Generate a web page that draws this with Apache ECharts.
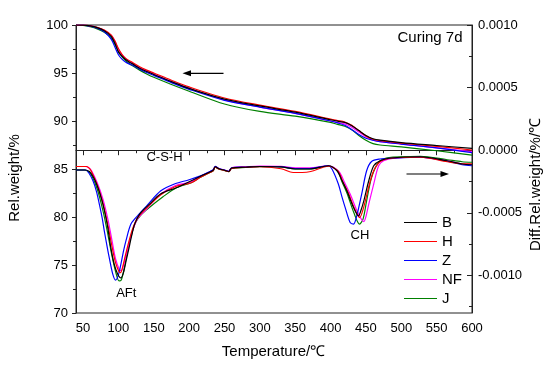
<!DOCTYPE html>
<html><head><meta charset="utf-8">
<script src="https://cdn.jsdelivr.net/npm/echarts@6/dist/echarts.min.js"></script>
<style>html,body{margin:0;padding:0;background:#fff}#c{width:550px;height:369px}</style>
</head><body><div id="c"></div>
<script>
// ---- data ----
const names = ['B','H','Z','NF','J'];
const colors = ['#000000','#ff0000','#0000ff','#ff00ff','#008000'];
const xTickLabels = [50,100,150,200,250,300,350,400,450,500,550,600];
const xMinorTicks = [75,125,175,225,275,325,375,425,475,525,575];
const rightTickLabels = [-0.001,-0.0005,0,0.0005,0.001];
const rightMinorTicks = [-0.00125,-0.00075,-0.00025,0.00025,0.00075];

const tgTemps = [40,50,60,70,80,90,95,100,105,110,115,120,130,140,150,175,200,250,300,350,400,410,420,430,440,450,460,470,500,550,600];
const tgB  = [100,99.98,99.9,99.72,99.4,98.8,98.1,97.2,96.75,96.4,96.15,95.95,95.5,95.15,94.85,94.1,93.4,92.28,91.57,90.92,90.13,89.98,89.85,89.5,89.0,88.5,88.15,88.0,87.75,87.45,87.15];
const tgH  = [100,99.98,99.92,99.76,99.48,98.95,98.35,97.55,96.95,96.55,96.3,96.1,95.65,95.3,95.0,94.25,93.55,92.4,91.65,91.0,90.2,90.05,89.9,89.55,89.0,88.45,88.1,87.95,87.7,87.35,86.98];
const tgZ  = [100,99.98,99.88,99.68,99.3,98.5,97.7,96.9,96.45,96.15,95.95,95.8,95.4,95.05,94.75,94.0,93.3,92.15,91.45,90.8,90.0,89.8,89.55,89.1,88.6,88.2,88.0,87.85,87.6,87.2,86.7];
const tgNF = [100,99.98,99.9,99.74,99.45,98.9,98.3,97.45,96.9,96.5,96.2,96.0,95.55,95.2,94.9,94.1,93.4,92.2,91.45,90.8,90.0,89.85,89.7,89.35,88.85,88.35,88.0,87.85,87.6,87.2,86.8];
const tgJ  = [100,99.96,99.82,99.6,99.25,98.65,98.0,97.25,96.7,96.3,96.0,95.75,95.3,94.9,94.55,93.8,93.1,91.77,91.0,90.5,89.85,89.65,89.45,89.1,88.5,88.0,87.65,87.5,87.3,86.9,86.45];

const dtgB = [[40,-0.000158],[52,-0.000158],[59,-0.00017],[65,-0.00022],[69,-0.00027],[74,-0.00035],[78,-0.00043],[82,-0.00053],[85,-0.00062],[89,-0.00077],[94,-0.00091],[99,-0.00099],[103.5,-0.00102],[107,-0.00098],[111,-0.00088],[115,-0.00078],[118,-0.0007],[123,-0.00059],[130,-0.00051],[144,-0.00043],[160,-0.000348],[182,-0.0003],[203,-0.000244],[216,-0.000208],
  [230,-0.000172],[234,-0.00016],[237,-0.000132],[242,-0.000148],[250,-0.00016],[256,-0.00017],[260,-0.000142],[280,-0.000136],[300,-0.00013],[330,-0.000133],[350,-0.00015],[370,-0.00015],[397,-0.000124],
  [409,-0.000164],[416,-0.00024],[423,-0.000324],[432.5,-0.000458],[439.5,-0.000524],[443,-0.00048],[447,-0.000404],[454,-0.000244],[461,-0.000124],[470,-0.000084],[485,-0.000062],[527,-0.000052],[565,-0.000084],[586,-0.00011],[600,-0.000116]];
const dtgH = [[40,-0.00013],[55,-0.00013],[59,-0.000145],[62,-0.000172],[70,-0.000276],[78,-0.00042],[85,-0.000596],[91,-0.000772],[96,-0.0009],[101,-0.000972],[103,-0.000978],[106,-0.000932],[110,-0.000836],[115,-0.000724],[120,-0.000628],[127,-0.00054],[140,-0.00046],[160,-0.000356],[180,-0.000292],[203,-0.00026],[216,-0.000216],
  [230,-0.000176],[234,-0.000164],[237,-0.000136],[242,-0.00015],[250,-0.000162],[256,-0.000172],[260,-0.000146],[280,-0.000136],[300,-0.000132],[330,-0.000148],[347,-0.000178],[360,-0.000178],[372,-0.00017],[397,-0.000128],
  [410,-0.000164],[418,-0.00026],[425,-0.00034],[434,-0.000468],[441,-0.000538],[447,-0.000452],[454,-0.000292],[461,-0.000164],[470,-0.000092],[485,-0.000064],[527,-0.000056],[565,-0.000092],[586,-0.000108],[600,-0.000108]];
const dtgZ = [[40,-0.000158],[54,-0.000158],[58,-0.00018],[64,-0.000244],[69,-0.00033],[73,-0.00043],[77,-0.00054],[80,-0.000644],[84,-0.00077],[87,-0.000858],[92,-0.00099],[96,-0.001038],[100,-0.000996],[103.5,-0.00091],[107,-0.00081],[110.6,-0.000724],[117.7,-0.00059],[127,-0.000524],[140,-0.000444],[160,-0.000324],[180,-0.000268],[200,-0.000236],[216,-0.000205],
  [230,-0.000168],[234,-0.000156],[237,-0.000128],[242,-0.000146],[250,-0.000158],[256,-0.000168],[260,-0.00014],[280,-0.000134],[300,-0.00013],[330,-0.000132],[350,-0.000146],[370,-0.000146],[397,-0.000124],
  [402,-0.00015],[411,-0.00027],[416,-0.00037],[420.7,-0.000458],[427.7,-0.000578],[432.5,-0.00059],[437,-0.000524],[444,-0.00035],[451,-0.000164],[458,-0.00009],[470,-0.00007],[485,-0.000064],[527,-0.000056],[565,-0.000088],[586,-0.000116],[600,-0.000124]];
const dtgNF = [[40,-0.00013],[53,-0.00013],[58,-0.00014],[62,-0.000164],[70,-0.00026],[78,-0.000388],[85,-0.000548],[91,-0.000724],[96,-0.000868],[101,-0.000948],[104,-0.000964],[107,-0.000924],[111,-0.000836],[115,-0.000748],[120,-0.000644],[127,-0.000548],[140,-0.000468],[160,-0.00035],[180,-0.000284],[203,-0.000252],[216,-0.000208],
  [230,-0.00017],[234,-0.000158],[237,-0.00013],[242,-0.000146],[250,-0.000158],[256,-0.000168],[260,-0.00014],[280,-0.000132],[300,-0.000126],[330,-0.000128],[350,-0.00014],[370,-0.00014],[397,-0.000124],
  [412,-0.000172],[420,-0.00026],[427.7,-0.00035],[439.5,-0.00051],[447,-0.00057],[450,-0.00053],[454,-0.00043],[461,-0.00027],[468,-0.000124],[475,-0.000084],[490,-0.000064],[527,-0.000056],[565,-0.000084],[586,-0.000108],[600,-0.000116]];
const dtgJ = [[40,-0.000158],[53,-0.000158],[58,-0.000175],[62,-0.0002],[70,-0.00031],[78,-0.00048],[84,-0.00064],[90,-0.00082],[96,-0.00097],[101,-0.001044],[104,-0.001036],[108,-0.000948],[113,-0.000804],[118,-0.000684],[124,-0.00058],[132,-0.000516],[145,-0.000452],[163,-0.000372],[182,-0.0003],[203,-0.00026],[216,-0.000216],
  [230,-0.000176],[234,-0.000164],[237,-0.000136],[242,-0.00015],[250,-0.000162],[256,-0.000172],[260,-0.000146],[280,-0.000138],[300,-0.000132],[330,-0.000134],[350,-0.00015],[370,-0.00015],[397,-0.000124],
  [410,-0.000164],[416,-0.00025],[423,-0.00034],[433,-0.0005],[441,-0.00059],[446,-0.000548],[451,-0.000404],[458,-0.000218],[468,-0.000098],[480,-0.00006],[527,-0.000048],[565,-0.000076],[586,-0.000092],[600,-0.000096]];

const tgAll = [tgB,tgH,tgZ,tgNF,tgJ];
const dtgAll = [dtgB,dtgH,dtgZ,dtgNF,dtgJ];

// ---- chart ----
const FONT = '"Liberation Sans", Arial, sans-serif';
const AX = '#222';
const chart = echarts.init(document.getElementById('c'), null, {renderer:'canvas'});
const series = [];
const drawOrder = [4,3,2,1,0];
drawOrder.forEach(i => {
  series.push({name:names[i], type:'line', xAxisIndex:0, yAxisIndex:0, symbol:'none', smooth:0.3,
    lineStyle:{color:colors[i], width:1.2}, itemStyle:{color:colors[i]},
    data: tgTemps.map((t,k)=>[t, tgAll[i][k]]), z:2+(4-i)});
  series.push({name:names[i], type:'line', xAxisIndex:0, yAxisIndex:1, symbol:'none', smooth:0.3,
    lineStyle:{color:colors[i], width:1.2}, itemStyle:{color:colors[i]},
    data: dtgAll[i], z:2+(4-i)});
});

const option = {
  animation:false,
  backgroundColor:'#fff',
  grid:{left:76, right:78, top:25, bottom:56, show:true, borderColor:AX, borderWidth:1, backgroundColor:'transparent'},
  xAxis:[
    {type:'value', min:40, max:600, position:'bottom',
     axisLine:{show:true, lineStyle:{color:AX, width:1}},
     axisTick:{show:true, inside:false, length:5, customValues:xTickLabels, lineStyle:{color:AX}},
     axisLabel:{customValues:xTickLabels, margin:9, fontSize:13, color:'#000', fontFamily:FONT},
     splitLine:{show:false}},
    {type:'value', min:40, max:600, position:'bottom',
     axisLine:{show:false},
     axisTick:{show:true, inside:false, length:3, customValues:xMinorTicks, lineStyle:{color:AX}},
     axisLabel:{show:false}, splitLine:{show:false}}
  ],
  yAxis:[
    {type:'value', min:70, max:100, interval:5, position:'left',
     axisLine:{show:true, lineStyle:{color:AX, width:1}},
     axisTick:{show:true, inside:false, length:4, lineStyle:{color:AX}},
     minorTick:{show:true, splitNumber:2, length:3, lineStyle:{color:AX}},
     axisLabel:{margin:8, fontSize:13, color:'#000', fontFamily:FONT},
     splitLine:{show:false}},
    {type:'value', min:-0.0013, max:0.001, position:'right',
     axisLine:{show:true, lineStyle:{color:AX, width:1}},
     axisTick:{show:true, inside:true, length:5, customValues:rightTickLabels, lineStyle:{color:AX}},
     axisLabel:{customValues:rightTickLabels, margin:6, fontSize:13, color:'#000', fontFamily:FONT,
       formatter:v=>Number(v).toFixed(4)},
     splitLine:{show:false}},
    {type:'value', min:-0.0013, max:0.001, position:'right',
     axisLine:{show:false},
     axisTick:{show:true, inside:true, length:3, customValues:rightMinorTicks, lineStyle:{color:AX}},
     axisLabel:{show:false}, splitLine:{show:false}}
  ],
  legend:{
    data:names, orient:'vertical', left:399, top:210, itemWidth:33, itemHeight:15, itemGap:4,
    icon:'path://M0,7 L33,7 L33,8.2 L0,8.2 Z',
    textStyle:{fontSize:15, color:'#000', fontFamily:FONT, lineHeight:15},
    selectedMode:false
  },
  series: series,
  graphic:[
    {type:'text', x:15, y:178, rotation:Math.PI/2, style:{text:'Rel.weight/%', font:'15px '+FONT, fill:'#000', align:'center', verticalAlign:'middle'}},
    {type:'text', x:536, y:184.5, rotation:Math.PI/2, style:{text:'Diff.Rel.weight/%/℃', font:'15px '+FONT, fill:'#000', align:'center', verticalAlign:'middle'}},
    {type:'text', x:273.5, y:351.5, style:{text:'Temperature/℃', font:'15px '+FONT, fill:'#000', align:'center', verticalAlign:'middle'}},
    {type:'text', x:462.5, y:38, style:{text:'Curing 7d', font:'15px '+FONT, fill:'#000', align:'right', verticalAlign:'middle'}},
    {type:'text', x:164.5, y:157.3, style:{text:'C-S-H', font:'13px '+FONT, fill:'#000', align:'center', verticalAlign:'middle'}},
    {type:'text', x:126.3, y:293.3, style:{text:'AFt', font:'13px '+FONT, fill:'#000', align:'center', verticalAlign:'middle'}},
    {type:'text', x:360, y:235.7, style:{text:'CH', font:'13px '+FONT, fill:'#000', align:'center', verticalAlign:'middle'}},
    {type:'line', shape:{x1:189, y1:73.3, x2:223.5, y2:73.3}, style:{stroke:'#000', lineWidth:1.2}},
    {type:'polygon', shape:{points:[[182.5,73.3],[191,70.3],[191,76.3]]}, style:{fill:'#000'}},
    {type:'line', shape:{x1:406.5, y1:174, x2:442, y2:174}, style:{stroke:'#000', lineWidth:1.2}},
    {type:'polygon', shape:{points:[[449,174],[440.5,171],[440.5,177]]}, style:{fill:'#000'}}
  ]
};
chart.setOption(option);
</script>
</body></html>
